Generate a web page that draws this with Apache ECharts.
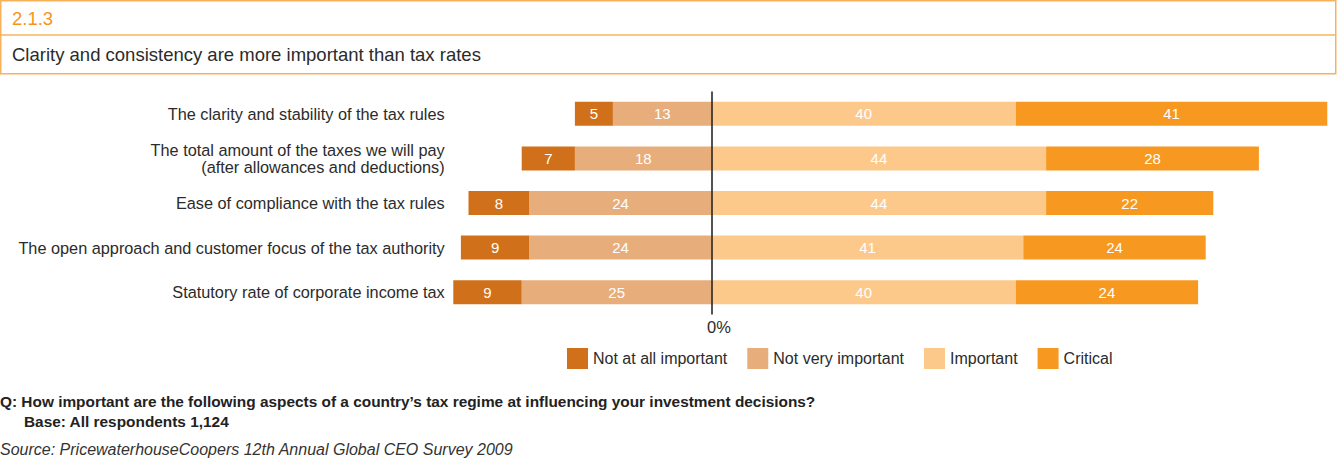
<!DOCTYPE html>
<html>
<head>
<meta charset="utf-8">
<script src="https://cdn.jsdelivr.net/npm/echarts@6/dist/echarts.min.js"></script>
<style>
  html, body { margin: 0; padding: 0; background: #fff; }
  #chart { width: 1341px; height: 466px; }
</style>
</head>
<body>
<div id="chart"></div>
<script>
// Survey aspects, top to bottom
const categories = [
  'The clarity and stability of the tax rules',
  'The total amount of the taxes we will pay\n(after allowances and deductions)',
  'Ease of compliance with the tax rules',
  'The open approach and customer focus of the tax authority',
  'Statutory rate of corporate income tax'
];
// Share of respondents (%) per answer
const notAtAllImportant = [5, 7, 8, 9, 9];
const notVeryImportant  = [13, 18, 24, 24, 25];
const important         = [40, 44, 44, 41, 40];
const critical          = [41, 28, 22, 24, 24];

const seriesNames = ['Not at all important', 'Not very important', 'Important', 'Critical'];
const colors = {
  'Not at all important': '#D1701A',
  'Not very important': '#E7AD7A',
  'Important': '#FDC98B',
  'Critical': '#F79820'
};

const FONT = '"Liberation Sans", Arial, Helvetica, sans-serif';
const ORANGE_LINE = '#F8B25C';
const TEXT = '#2b2b2b';

function barSeries(name, values, negative) {
  return {
    name: name,
    type: 'bar',
    stack: 'total',
    barWidth: 24,
    data: values.map(v => negative ? -v : v),
    itemStyle: { color: colors[name] },
    label: {
      show: true,
      position: 'inside',
      color: '#fff',
      fontFamily: FONT,
      fontSize: 15,
      formatter: p => Math.abs(p.value)
    },
    emphasis: { disabled: true }
  };
}

const series = [
  // negative side: inner segment first so the outer one stacks further left
  barSeries('Not very important', notVeryImportant, true),
  barSeries('Not at all important', notAtAllImportant, true),
  barSeries('Important', important, false),
  barSeries('Critical', critical, false)
];
// zero line
series[0].markLine = {
  silent: true,
  symbol: 'none',
  label: { show: false },
  lineStyle: { color: '#1a1a1a', width: 1.5, type: 'solid' },
  data: [{ xAxis: 0 }]
};

function text(x, y, str, opts) {
  return {
    type: 'text', x: x, y: y, silent: true,
    style: Object.assign({
      text: str, fill: TEXT, fontFamily: FONT, fontSize: 16,
      verticalAlign: 'middle', align: 'left'
    }, opts || {})
  };
}

const chart = echarts.init(document.getElementById('chart'), null, { renderer: 'svg' });
chart.setOption({
  animation: false,
  color: seriesNames.map(n => colors[n]),
  grid: { left: 445.7, right: 6.1, top: 91.5, height: 223, containLabel: false },
  xAxis: {
    type: 'value',
    min: -35,
    max: 82,
    axisLine: { show: false },
    axisTick: { show: false },
    axisLabel: { show: false },
    splitLine: { show: false }
  },
  yAxis: {
    type: 'category',
    data: categories,
    inverse: true,
    axisLine: { show: false },
    axisTick: { show: false },
    axisLabel: {
      margin: 1,
      color: TEXT,
      fontFamily: FONT,
      fontSize: 16.3,
      lineHeight: 16.5,
      align: 'right'
    }
  },
  legend: {
    data: seriesNames,
    left: 567,
    top: 348,
    padding: 0,
    itemWidth: 21,
    itemHeight: 21,
    itemGap: 20,
    icon: 'rect',
    selectedMode: false,
    textStyle: { color: TEXT, fontFamily: FONT, fontSize: 16 }
  },
  graphic: [
    // header frame
    { type: 'rect', silent: true, shape: { x: 0.75, y: 0.75, width: 1335, height: 73 },
      style: { fill: 'none', stroke: ORANGE_LINE, lineWidth: 1.5 } },
    { type: 'line', silent: true, shape: { x1: 0.75, y1: 35, x2: 1335.75, y2: 35 },
      style: { stroke: ORANGE_LINE, lineWidth: 1.5 } },
    text(12, 18, '2.1.3', { fill: '#F7941D', fontSize: 18.5 }),
    text(12, 54, 'Clarity and consistency are more important than tax rates', { fontSize: 18.5 }),
    // axis origin label
    text(707, 327, '0%', { fontSize: 16.5 }),
    // footnotes
    text(0, 401, 'Q: How important are the following aspects of a country\u2019s tax regime at influencing your investment decisions?',
      { fill: '#222', fontSize: 15.4, fontWeight: 'bold' }),
    text(24, 421, 'Base: All respondents 1,124', { fill: '#222', fontSize: 15.4, fontWeight: 'bold' }),
    text(0, 449, 'Source: PricewaterhouseCoopers 12th Annual Global CEO Survey 2009',
      { fill: '#333', fontSize: 16, fontStyle: 'italic' })
  ],
  series: series
});
</script>
</body>
</html>
